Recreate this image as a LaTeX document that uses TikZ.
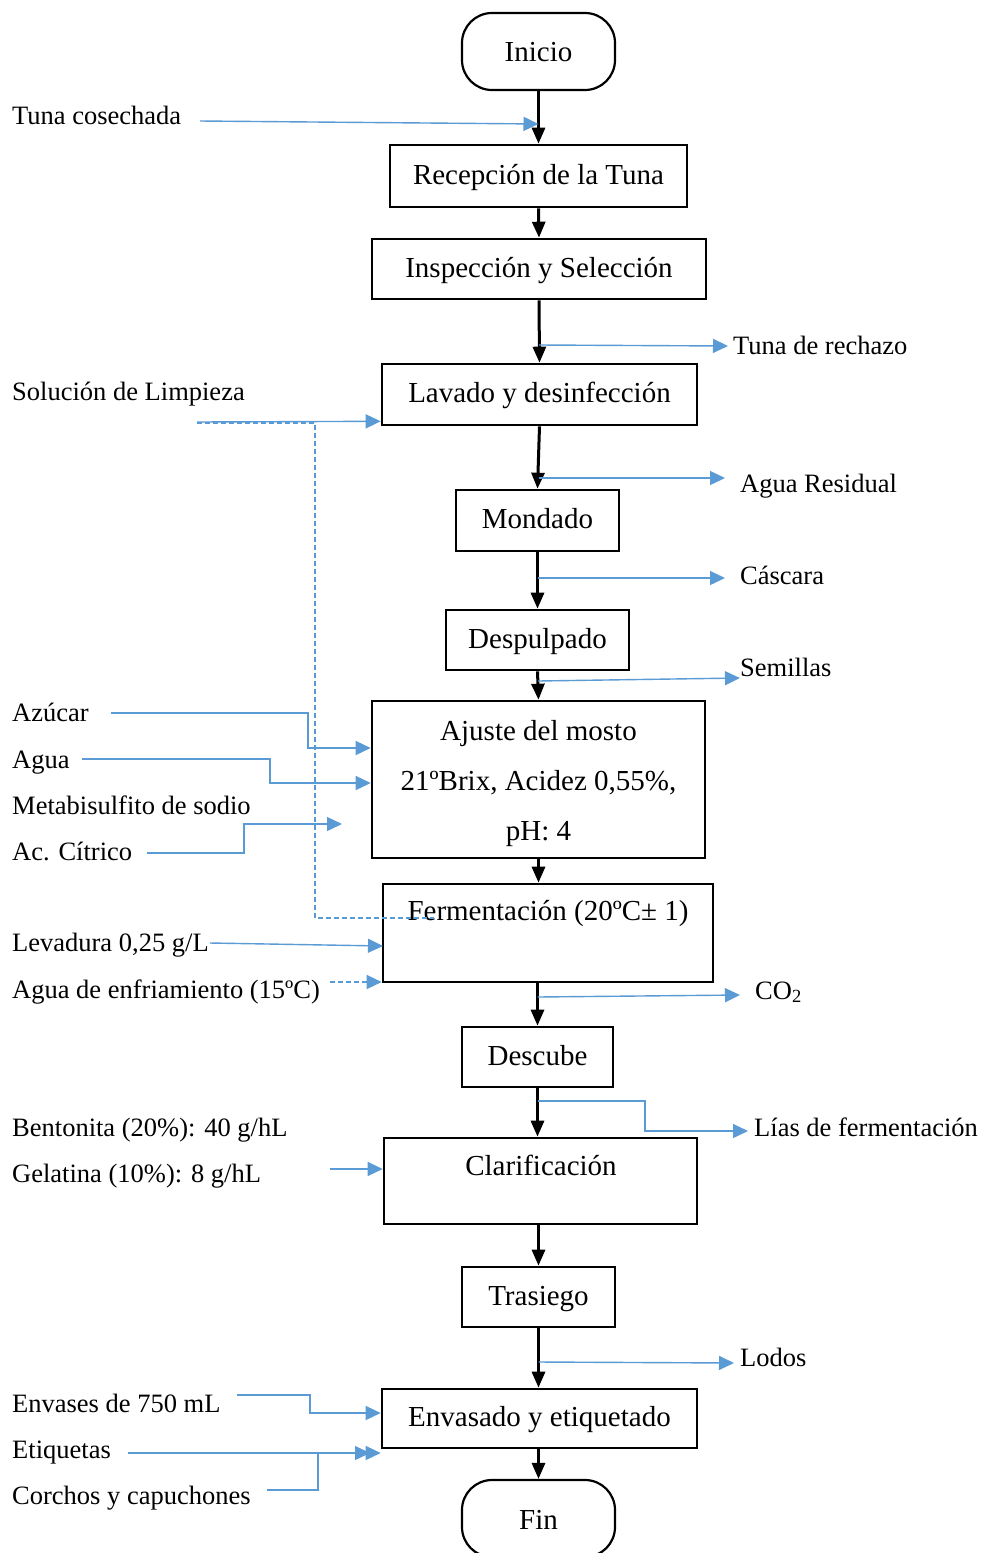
\documentclass[tikz,border=0pt]{standalone}
\usepackage{fontspec}
\setmainfont{Liberation Serif}
\usetikzlibrary{arrows.meta}
\definecolor{flowblue}{HTML}{5B9BD5}
\newcommand\boxfont{\fontsize{29}{35}\selectfont}
\newcommand\lblfont{\fontsize{26.5}{32}\selectfont}
\begin{document}
\begin{tikzpicture}[x=1pt,y=-1pt,
 box/.style={draw=black, line width=2.6pt, inner sep=0pt, font=\boxfont, text height=20pt, text depth=4pt},
 term/.style={draw=black, line width=2.2pt, rounded corners=30pt, inner sep=0pt, minimum width=153pt, minimum height=77pt},
 main/.style={line width=3pt, -{Triangle[width=13pt,length=16pt]}},
 feed/.style={draw=flowblue, line width=1.4pt, -{Triangle[width=14pt,length=15pt]}},
 feedl/.style={draw=flowblue, line width=1.4pt},
 dsh/.style={dash pattern=on 5pt off 3pt},
 lbl/.style={anchor=west, inner sep=0pt, font=\lblfont, text height=19pt, text depth=3pt},
 btxt/.style={inner sep=0pt, font=\boxfont, text height=20pt, text depth=4pt}
]
\useasboundingbox (0,0) rectangle (981,1553);
\fill[white] (0,0) rectangle (981,1553);

% process nodes
\node[term] (ini) at (538.5,51.5) {};
\node[btxt] (init) at (538.5,53) {Inicio};
\node[box, minimum width=297pt, minimum height=62pt] (rec) at (538.5,176) {Recepción de la Tuna};
\node[box, minimum width=334pt, minimum height=60pt] (insp) at (539,269) {Inspección y Selección};
\node[box, minimum width=315pt, minimum height=61pt] (lav) at (539.5,394.5) {Lavado y desinfección};
\node[box, minimum width=163pt, minimum height=61pt] (mon) at (537.5,520.5) {Mondado};
\node[box, minimum width=183pt, minimum height=60pt] (desp) at (537.5,640) {Despulpado};
\node[box, minimum width=333pt, minimum height=157pt] (aj) at (538.5,779.5) {};
\node[inner sep=0pt, align=center, font=\fontsize{29}{50}\selectfont] (ajt) at (538.5,784) {Ajuste del mosto\\21ºBrix, Acidez 0,55\%,\\pH: 4};
\node[box, minimum width=330pt, minimum height=98pt] (fer) at (548,933) {};
\node[btxt] (fert) at (548,912) {Fermentación (20ºC± 1)};
\node[box, minimum width=151pt, minimum height=60pt] (desc) at (537.5,1057) {Descube};
\node[box, minimum width=313pt, minimum height=86pt] (clar) at (540.5,1181) {};
\node[btxt] (clart) at (541,1167) {Clarificación};
\node[box, minimum width=153pt, minimum height=60pt] (tras) at (538.5,1297) {Trasiego};
\node[box, minimum width=315pt, minimum height=59pt] (env) at (539.5,1418.5) {Envasado y etiquetado};
\node[term] (fin) at (538.5,1518.5) {};
\node[btxt] (fint) at (538.5,1521) {Fin};

% labels
\node[lbl] (tc) at (12,116) {Tuna cosechada};
\node[lbl] (rech) at (733,346) {Tuna de rechazo};
\node[lbl] (sol) at (12,392) {Solución de Limpieza};
\node[lbl] (ares) at (740,484) {Agua Residual};
\node[lbl] (casc) at (740,576) {Cáscara};
\node[lbl] (sem) at (740,668) {Semillas};
\node[lbl] (az) at (12,713) {Azúcar};
\node[lbl] (agua) at (12,760) {Agua};
\node[lbl] (meta) at (12,806) {Metabisulfito de sodio};
\node[lbl] (cit) at (12,852) {Ac. Cítrico};
\node[lbl] (lev) at (12,943) {Levadura 0,25 g/L};
\node[lbl] (enf) at (12,990) {Agua de enfriamiento (15ºC)};
\node[lbl] (co2) at (755,991) {CO\textsubscript{2}};
\node[lbl] (bent) at (12,1128) {Bentonita (20\%): 40 g/hL};
\node[lbl] (gel) at (12,1174) {Gelatina (10\%): 8 g/hL};
\node[lbl] (lias) at (754,1128) {Lías de fermentación};
\node[lbl] (lod) at (740,1358) {Lodos};
\node[lbl] (envs) at (12,1404) {Envases de 750 mL};
\node[lbl] (etq) at (12,1450) {Etiquetas};
\node[lbl] (corc) at (12,1496) {Corchos y capuchones};

% main flow
\draw[main] (ini.south) -- (rec.north);
\draw[main] (rec.south) -- (insp.north);
\draw[main] (insp.south) -- (lav.north);
\draw[main] (lav.south) -- (mon.north);
\draw[main] (mon.south) -- (desp.north);
\draw[main] (desp.south) -- (aj.north);
\draw[main] (aj.south) -- (aj.south |- fer.north);
\draw[main] (fer.south -| desc.north) -- (desc.north);
\draw[main] (desc.south) -- (clar.north -| desc.south);
\draw[main] (clar.south -| tras.north) -- (tras.north);
\draw[main] (tras.south) -- (env.north -| tras.south);
\draw[main] (env.south -| fin.north) -- (fin.north);

% junction coordinates
\coordinate (tcs) at (200,121);   \coordinate (tce) at (538.5,124);
\coordinate (rj) at (539,345);
\coordinate (ss) at (197,422);
\coordinate (ds) at (197,423); \coordinate (d1) at (315,423); \coordinate (d2) at (315,918); \coordinate (de) at (434,918);
\coordinate (arj) at (538.5,478);
\coordinate (cj) at (537.5,578);
\coordinate (sj) at (538,681);
\coordinate (azs) at (111,713); \coordinate (az1) at (308,713); \coordinate (az2) at (308,748);
\coordinate (ags) at (82,759); \coordinate (ag1) at (270,759); \coordinate (ag2) at (270,783);
\coordinate (cis) at (147,853); \coordinate (ci1) at (244,853); \coordinate (ci2) at (244,824); \coordinate (cie) at (342,824);
\coordinate (lvs) at (210,943); \coordinate (lve) at (383,946);
\coordinate (efs) at (330,982);
\coordinate (coj) at (537.5,997);
\coordinate (lj) at (537.5,1101); \coordinate (l1) at (645,1101); \coordinate (l2) at (645,1131);
\coordinate (gls) at (330,1169);
\coordinate (loj) at (538.5,1362);
\coordinate (evs) at (237,1395); \coordinate (ev1) at (310,1395); \coordinate (ev2) at (310,1413);
\coordinate (ets) at (128,1453);
\coordinate (crs) at (267,1490); \coordinate (cr1) at (318,1490); \coordinate (cr2) at (318,1453); \coordinate (cre) at (370,1453);

% blue feeds
\draw[feed] (tcs) -- (tce);
\draw[feed] (rj) -- ([xshift=-5pt]rech.west);
\draw[feed] (ss) -- ([yshift=5pt]lav.south west);
\draw[feedl, dsh] (ds) -- (d1) -- (d2) -- (de);
\draw[feed] (arj) -- ([xshift=-15pt]ares.west |- arj);
\draw[feed] (cj) -- ([xshift=-15pt]casc.west |- cj);
\draw[feed] (sj) -- ([yshift=-10pt]sem.west);
\draw[feed] (azs) -- (az1) -- (az2) -- (aj.west |- az2);
\draw[feed] (ags) -- (ag1) -- (ag2) -- (aj.west |- ag2);
\draw[feed] (cis) -- (ci1) -- (ci2) -- (cie);
\draw[feed] (lvs) -- (lve);
\draw[feed, dsh] (efs) -- (fer.west |- efs);
\draw[feed] (coj) -- ([xshift=-15pt,yshift=-4pt]co2.west);
\draw[feed] (lj) -- (l1) -- (l2) -- ([xshift=-6pt]lias.west |- l2);
\draw[feed] (gls) -- (clar.west |- gls);
\draw[feed] (loj) -- ([xshift=-6pt,yshift=-5pt]lod.west);
\draw[feed] (evs) -- (ev1) -- (ev2) -- (env.west |- ev2);
\draw[feed] (ets) -- (env.west |- ets);
\draw[feed] (crs) -- (cr1) -- (cr2) -- (cre);
\end{tikzpicture}
\end{document}
